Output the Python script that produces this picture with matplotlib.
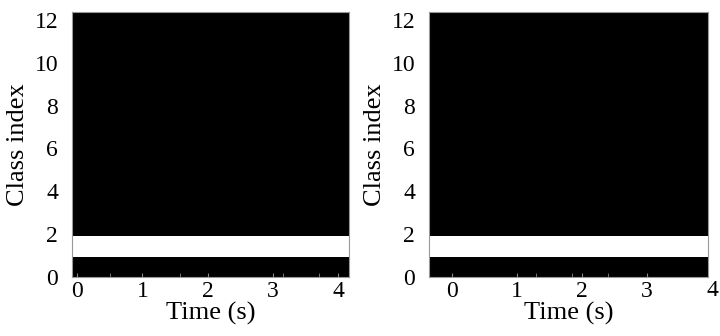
import numpy as np
import matplotlib
matplotlib.use("Agg")
import matplotlib.pyplot as plt

# class scores per panel (13 classes, index 0..12), constant over time
classes = np.arange(13)
scores_left = [0, 1, 0, 0, 0, 0, 0, 0, 0, 0, 0, 0, 0]
scores_right = [0, 1, 0, 0, 0, 0, 0, 0, 0, 0, 0, 0, 0]
n_frames = 100

time_left = [-0.08, 4.17]
time_right = [-0.35, 3.94]
xtick_labels = ["0", "1", "2", "3", "4"]
yticks = [0, 2, 4, 6, 8, 10, 12]
minor_left = [0.5, 1.58, 3.15, 3.7]
minor_right = [1.3, 1.85, 2.4]

plt.rcParams['font.family'] = ['Liberation Serif', 'DejaVu Serif']

fig = plt.figure(figsize=(7.2, 3.36), dpi=100)
ax1 = fig.add_axes([0.1, 0.1756, 0.385, 0.789])
ax2 = fig.add_axes([0.596, 0.1756, 0.3875, 0.789])

top = 12.37

def draw(ax, scores, trange, minors):
    img = np.tile(np.array(scores, dtype=float)[:, None], (1, n_frames))
    ax.imshow(img, cmap="gray", vmin=0, vmax=1, origin="lower", aspect="auto",
              interpolation="nearest", extent=[trange[0], trange[1], 0, top])
    ax.set_xlim(trange)
    ax.set_ylim(0, top)
    ax.set_yticks(yticks)
    ax.set_yticklabels([str(v) for v in yticks], fontsize=17)
    ticks = [i for i in range(len(xtick_labels)) if trange[0] <= i <= trange[1]]
    ax.set_xticks(ticks)
    ax.set_xticklabels([xtick_labels[i] for i in ticks], fontsize=17)
    ax.set_xticks(minors, minor=True)
    ax.tick_params(axis="y", length=0, pad=10)
    ax.tick_params(axis="x", which="both", direction="in", length=3, color="#888888", pad=3)
    ax.set_xlabel("Time (s)", fontsize=19, labelpad=0)
    ax.set_ylabel("Class index", fontsize=19, labelpad=4)
    for s in ax.spines.values():
        s.set_color("#999999")
        s.set_linewidth(0.8)
    # tick labels that fall outside the view
    for i, lab in enumerate(xtick_labels):
        if i > trange[1] or i < trange[0]:
            ax.text(i, -0.012, lab, fontsize=17, ha="center", va="top",
                    transform=ax.get_xaxis_transform(), clip_on=False)

draw(ax1, scores_left, time_left, minor_left)
draw(ax2, scores_right, time_right, minor_right)

fig.savefig("out.png", dpi=100)
